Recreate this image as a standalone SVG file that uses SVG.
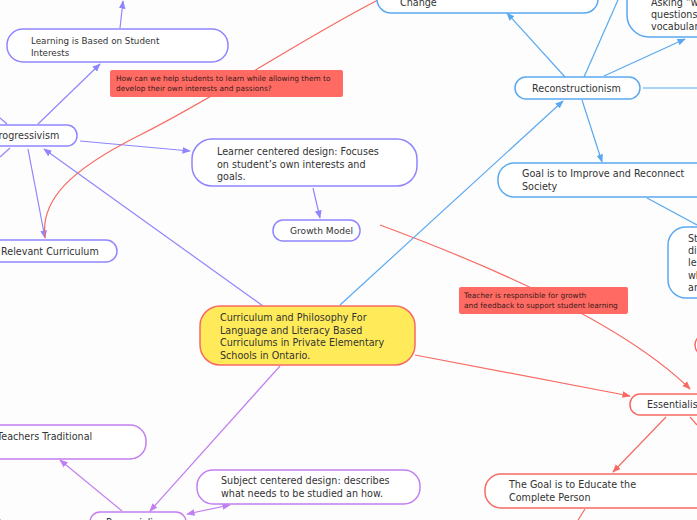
<svg xmlns="http://www.w3.org/2000/svg" width="697" height="520" viewBox="0 0 697 520">
<defs>
<style>
.t{font-family:"DejaVu Sans","Noto Sans",sans-serif;font-size:9.6px;fill:#333}
.s{font-size:8.75px}
.g{font-size:9.1px}
.n{font-family:"DejaVu Sans","Noto Sans",sans-serif;font-size:7.4px;fill:#3a1a1a}
.p{fill:#fff;stroke:#8f85ff;stroke-width:1.5}
.b{fill:#fff;stroke:#5aa9f0;stroke-width:1.5}
.r{fill:#fff;stroke:#f76a63;stroke-width:1.5}
.v{fill:#fff;stroke:#c27ff0;stroke-width:1.5}
.cp{fill:none;stroke:#8f85ff;stroke-width:1.2}
.cb{fill:none;stroke:#5aa9f0;stroke-width:1.2}
.cr{fill:none;stroke:#f76a63;stroke-width:1.2}
.cv{fill:none;stroke:#c27ff0;stroke-width:1.2}
</style>
<marker id="ap" viewBox="0 0 10 10" refX="9" refY="5" markerWidth="7" markerHeight="7" orient="auto-start-reverse"><path d="M0,1 L10,5 L0,9 z" fill="#8f85ff"/></marker>
<marker id="ab" viewBox="0 0 10 10" refX="9" refY="5" markerWidth="7" markerHeight="7" orient="auto-start-reverse"><path d="M0,1 L10,5 L0,9 z" fill="#5aa9f0"/></marker>
<marker id="ar" viewBox="0 0 10 10" refX="9" refY="5" markerWidth="7" markerHeight="7" orient="auto-start-reverse"><path d="M0,1 L10,5 L0,9 z" fill="#f76a63"/></marker>
<marker id="av" viewBox="0 0 10 10" refX="9" refY="5" markerWidth="7" markerHeight="7" orient="auto-start-reverse"><path d="M0,1 L10,5 L0,9 z" fill="#c27ff0"/></marker>
</defs>
<rect width="697" height="520" fill="#fdfdfd"/>
<g id="connectors">
<path class="cp" d="M120,28 L123,1" marker-end="url(#ap)"/>
<path class="cp" d="M38,124 L100,64" marker-end="url(#ap)"/>
<path class="cp" d="M80,141 L190,151" marker-end="url(#ap)"/>
<path class="cp" d="M28,149 L45,238" marker-end="url(#ap)"/>
<path class="cp" d="M0,118 L7,124"/>
<path class="cp" d="M0,157 L10,148"/>
<path class="cp" d="M263,306 L44,149" marker-end="url(#ap)"/>
<path class="cp" d="M313,188 L320,218" marker-end="url(#ap)"/>
<path class="cr" d="M45,238 C40,200 70,170 140,135 C220,95 300,40 378,0"/>
<path class="cr" d="M380,225 C480,262 620,320 690,389" marker-end="url(#ar)"/>
<path class="cb" d="M340,305 L563,101" marker-end="url(#ab)"/>
<path class="cb" d="M565,77 L507,13" marker-end="url(#ab)"/>
<path class="cb" d="M584,77 L618,0"/>
<path class="cb" d="M604,76 L685,39" marker-end="url(#ab)"/>
<path class="cb" d="M643,88 L697,88"/>
<path class="cb" d="M582,100 L602,162" marker-end="url(#ab)"/>
<path class="cb" d="M647,198 L697,225"/>
<path class="cr" d="M415,355 L630,396" marker-end="url(#ar)"/>
<path class="cr" d="M666,417 L613,472" marker-end="url(#ar)"/>
<path class="cr" d="M690,417 L697,425"/>
<path class="cr" d="M585,509 L578,520"/>
<path class="cv" d="M280,366 L150,511" marker-end="url(#av)"/>
<path class="cv" d="M122,511 L60,460" marker-end="url(#av)"/>
<path class="cv" d="M187,514 L230,505" marker-start="url(#av)" marker-end="url(#av)"/>
</g>
<g id="learning-interests"><rect class="p" x="7" y="29" width="221" height="33" rx="16"/><text class="t s" x="31" y="44">Learning is Based on Student</text><text class="t s" x="31" y="56">Interests</text></g>
<g id="progressivism"><rect class="p" x="-30" y="125" width="107" height="21" rx="10"/><text class="t" x="-7" y="139">Progressivism</text></g>
<g id="learner-centered"><rect class="p" x="192" y="139" width="225" height="47" rx="20"/><text class="t" x="217" y="155">Learner centered design: Focuses</text><text class="t" x="217" y="168">on student’s own interests and</text><text class="t" x="217" y="180">goals.</text></g>
<g id="growth-model"><rect class="p" x="273" y="220" width="87" height="21" rx="10"/><text class="t g" x="290" y="234">Growth Model</text></g>
<g id="relevant-curriculum"><rect class="p" x="-30" y="240" width="147" height="22" rx="11"/><text class="t" x="1" y="255">Relevant Curriculum</text></g>
<g id="note-interests"><rect x="110" y="70" width="233" height="27" rx="2" fill="#ff6b63"/><text class="n" x="116" y="81">How can we help students to learn while allowing them to</text><text class="n" x="116" y="91">develop their own interests and passions?</text></g>
<g id="central"><rect x="200" y="306" width="215" height="59" rx="20" fill="#ffeb5a" stroke="#f76a63" stroke-width="1.5"/><text class="t" x="220" y="321">Curriculum and Philosophy For</text><text class="t" x="220" y="334">Language and Literacy Based</text><text class="t" x="220" y="346">Curriculums in Private Elementary</text><text class="t" x="220" y="359">Schools in Ontario.</text></g>
<g id="reconstructionism"><rect class="b" x="515" y="77" width="125" height="22" rx="11"/><text class="t" x="532" y="92">Reconstructionism</text></g>
<g id="change"><rect class="b" x="377" y="-30" width="221" height="43" rx="14"/><text class="t" x="400" y="6">Change</text></g>
<g id="asking"><rect class="b" x="627" y="-30" width="100" height="67" rx="22"/><text class="t" x="651" y="6">Asking “w</text><text class="t" x="651" y="18">questions</text><text class="t" x="651" y="30">vocabular</text></g>
<g id="goal-improve"><rect class="b" x="498" y="163" width="240" height="34" rx="16"/><text class="t" x="522" y="177">Goal is to Improve and Reconnect</text><text class="t" x="522" y="190">Society</text></g>
<g id="st-node"><rect class="b" x="668" y="227" width="60" height="71" rx="18"/><text class="t" x="688" y="242">St</text><text class="t" x="688" y="254">di</text><text class="t" x="688" y="266">le</text><text class="t" x="688" y="279">wh</text><text class="t" x="688" y="291">an</text></g>
<g id="note-teacher"><rect x="459" y="287" width="169" height="27" rx="2" fill="#ff6b63"/><text class="n" x="464" y="298">Teacher is responsible for growth</text><text class="n" x="464" y="308">and feedback to support student learning</text></g>
<g id="red-edge"><rect class="r" x="695" y="334" width="30" height="22" rx="11"/></g>
<g id="essentialism"><rect class="r" x="630" y="394" width="100" height="21" rx="10"/><text class="t" x="647" y="408">Essentialism</text></g>
<g id="goal-educate"><rect class="r" x="485" y="474" width="240" height="34" rx="16"/><text class="t" x="509" y="488">The Goal is to Educate the</text><text class="t" x="509" y="501">Complete Person</text></g>
<g id="teachers-traditional"><rect class="v" x="-40" y="425" width="186" height="34" rx="16"/><text class="t" x="-3" y="440">Teachers Traditional</text></g>
<g id="subject-centered"><rect class="v" x="197" y="470" width="223" height="34" rx="16"/><text class="t" x="221" y="484">Subject centered design: describes</text><text class="t" x="221" y="497">what needs to be studied an how.</text></g>
<g id="perennialism"><rect class="v" x="90" y="512" width="96" height="22" rx="10"/><text class="t" x="106" y="526">Perennialism</text></g>
<g id="left-bottom"><rect class="v" x="-60" y="516" width="62" height="20" rx="10"/></g>
</svg>
